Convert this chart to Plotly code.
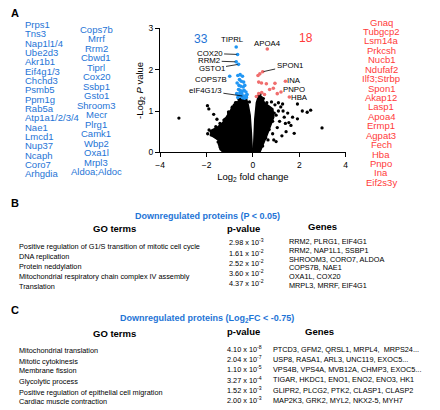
import plotly.graph_objects as go

W, H = 440, 410
FONT = "Arial, Liberation Sans, Helvetica, sans-serif"
BLUE_T = "#1e74d6"
BLUE_P = "#2196f3"
RED_T = "#ff3a3a"
RED_P = "#f06e6e"

# ---------------- data ----------------
down_genes_col1 = ["Prps1", "Tns3", "Nap1l1/4", "Ube2d3", "Akr1b1", "Eif4g1/3", "Chchd3", "Psmb5",
                   "Ppm1g", "Rab5a", "Atp1a1/2/3/4", "Nae1", "Lmcd1", "Nup37", "Ncaph", "Coro7", "Arhgdia"]
down_genes_col2 = ["Cops7b", "Mrrf", "Rrm2", "Cbwd1", "Tiprl", "Cox20", "Ssbp1", "Gsto1", "Shroom3",
                   "Mecr", "Plrg1", "Camk1", "Wbp2", "Oxa1l", "Mrpl3", "Aldoa;Aldoc"]
up_genes = ["Gnaq", "Tubgcp2", "Lsm14a", "Prkcsh", "Nucb1", "Ndufaf2", "Ilf3;Strbp", "Spon1", "Akap12",
            "Lasp1", "Apoa4", "Ermp1", "Agpat3", "Fech", "Hba", "Pnpo", "Ina", "Eif2s3y"]

# dense (non-significant) cloud envelopes, log2FC vs -log2 P
left_cloud_x = [-1.3, -1.45, -1.5, -1.78, -1.85, -1.55, -1.3, -1.15, -0.95, -0.85, -0.65, -0.55, -0.4,
                -0.28, -0.2, -0.12, -0.07, -0.03, -0.02, -1.3]
left_cloud_y = [0.0, 0.12, 0.3, 0.4, 0.52, 0.6, 0.72, 0.85, 1.0, 1.12, 1.22, 1.3, 1.33,
                1.3, 1.15, 0.9, 0.5, 0.1, 0.0, 0.0]
right_cloud_x = [0.02, 0.04, 0.08, 0.15, 0.25, 0.38, 0.5, 0.7, 0.86, 0.9, 0.75, 0.6, 0.45, 0.35, 0.3, 0.02]
right_cloud_y = [0.0, 0.3, 0.8, 1.2, 1.38, 1.35, 1.2, 1.12, 1.05, 0.85, 0.6, 0.4, 0.2, 0.05, 0.0, 0.0]

# scattered non-significant points
ns_x = [-3.19, -1.96, -1.9, -1.69, -1.55, -1.42, -1.35, -1.89, -1.95, -1.7, -0.97, -1.05, -1.2, -0.8,
        -0.7, -0.9, -1.6, -1.5, -1.25, -0.6, -0.3, -0.15,
        -1.05, -0.88, -0.75, -1.25, -1.4, -1.6, -1.75, -1.8, -1.55, -1.45, -1.38,
        1.92, 2.13, 2.34, 2.49, 2.98, 1.71, 1.92, 1.64, 1.43, 1.0, 1.78, 1.28, 1.1, 1.2, 1.0, 1.15,
        1.35, 1.05, 1.25, 0.9, 1.5, 1.3, 1.1, 0.95, 0.8, 0.7, 0.6, 1.4, 1.55, 0.85, 0.65, 0.55, 0.4, 0.3,
        0.92, 0.85, 0.7, 0.55, 0.42, 0.6, 0.45, 0.2]
ns_y = [0.83, 1.13, 1.05, 0.92, 0.8, 0.7, 0.63, 0.54, 0.45, 0.47, 0.97, 0.95, 0.8, 1.15,
        1.2, 1.08, 0.62, 0.25, 0.3, 1.28, 1.36, 1.22,
        0.98, 1.1, 1.2, 0.78, 0.66, 0.55, 0.5, 0.42, 0.35, 0.2, 0.08,
        1.17, 1.0, 0.97, 1.02, 0.59, 0.85, 0.81, 0.65, 0.5, 0.26, 0.46, 1.17, 1.2, 1.1, 0.9, 0.75,
        0.85, 0.6, 0.4, 0.3, 0.95, 1.0, 1.0, 1.15, 1.22, 0.75, 0.55, 0.7, 0.72, 0.45, 0.3, 0.9, 1.25, 1.4,
        0.95, 0.75, 0.55, 0.35, 0.15, 1.2, 1.3, 1.35]

# significantly downregulated (33)
down_x = [-0.72, -0.66, -0.72, -0.62, -1.0, -0.41,
          -0.65, -0.55, -0.45, -0.58, -0.5, -0.4, -0.68, -0.6, -0.52, -0.42, -0.35, -0.62, -0.55,
          -0.45, -0.38, -0.3, -0.7, -0.6, -0.52, -0.48, -0.33, -0.25, -0.65, -0.45, -0.36, -0.28, -0.56]
down_y = [2.55, 2.37, 2.19, 2.13, 1.84, 1.36,
          1.86, 1.88, 1.84, 1.76, 1.72, 1.7, 1.68, 1.62, 1.6, 1.58, 1.62, 1.52, 1.5,
          1.48, 1.5, 1.46, 1.42, 1.38, 1.36, 1.42, 1.36, 1.4, 1.33, 1.32, 1.31, 1.33, 1.44]

# significantly upregulated (18)
up_x = [0.62, 0.42, 0.30, 0.22, 0.25, 0.37, 0.58, 0.95, 1.40, 0.72, 0.88, 1.21, 1.57, 0.25, 0.38, 0.15, 0.50, 1.05]
up_y = [2.50, 1.95, 1.90, 1.86, 1.70, 1.68, 1.66, 1.67, 1.72, 1.52, 1.55, 1.46, 1.34, 1.42, 1.45, 1.35, 1.40, 1.42]

x_ticks = [-4, -2, 0, 2, 4]
y_ticks = [0, 1, 2, 3]

# GO tables
b_terms = ["Positive regulation of G1/S transition of mitotic cell cycle", "DNA replication",
           "Protein neddylation", "Mitochondrial respiratory chain complex IV assembly", "Translation"]
b_pval_mant = ["2.98", "1.61", "2.52", "3.60", "4.37"]
b_pval_exp = ["-3", "-2", "-2", "-2", "-2"]
b_genes = ["RRM2, PLRG1, EIF4G1", "RRM2, NAP1L1, SSBP1", "SHROOM3, CORO7, ALDOA", "COPS7B, NAE1",
           "OXA1L, COX20", "MRPL3, MRRF, EIF4G1"]

c_terms = ["Mitochondrial translation", "Mitotic cytokinesis", "Membrane fission", "Glycolytic process",
           "Positive regulation of epithelial cell migration", "Cardiac muscle contraction"]
c_pval_mant = ["4.10", "2.04", "1.10", "3.27", "1.52", "2.00"]
c_pval_exp = ["-8", "-7", "-5", "-4", "-3", "-3"]
c_genes = ["PTCD3, GFM2, QRSL1, MRPL4,  MRPS24...", "USP8, RASA1, ARL3, UNC119, EXOC5...",
           "VPS4B, VPS4A, MVB12A, CHMP3, EXOC5...", "TIGAR, HKDC1, ENO1, ENO2, ENO3, HK1",
           "GLIPR2, PLCG2, PTK2, CLASP1, CLASP2", "MAP2K3, GRK2, MYL2, NKX2-5, MYH7"]

# ---------------- figure ----------------
fig = go.Figure()
fig.add_trace(go.Scatter(x=left_cloud_x, y=left_cloud_y, mode="lines", fill="toself",
                         fillcolor="black", line=dict(color="black", width=1.5), hoverinfo="skip"))
fig.add_trace(go.Scatter(x=right_cloud_x, y=right_cloud_y, mode="lines", fill="toself",
                         fillcolor="black", line=dict(color="black", width=1.5), hoverinfo="skip"))
fig.add_trace(go.Scatter(x=ns_x, y=ns_y, mode="markers", marker=dict(color="black", size=3.3)))
fig.add_trace(go.Scatter(x=down_x, y=down_y, mode="markers", marker=dict(color=BLUE_P, size=3.6)))
fig.add_trace(go.Scatter(x=up_x, y=up_y, mode="markers", marker=dict(color=RED_P, size=3.6)))


def px2paper(px, py):
    return px / W, 1 - py / H


ann = []


def ptext(px, py, text, size, color="black", xanchor="left", bold=False):
    x, y = px2paper(px, py)
    if bold:
        text = "<b>" + text + "</b>"
    ann.append(dict(x=x, y=y, xref="paper", yref="paper", text=text, showarrow=False,
                    xanchor=xanchor, yanchor="middle", font=dict(family=FONT, size=size, color=color)))


# panel letters
ptext(4, 8, "A", 11, bold=True)
ptext(4, 203, "B", 11, bold=True)
ptext(4, 313, "C", 11, bold=True)

# gene lists
for i, g in enumerate(down_genes_col1):
    ptext(18, 20 + i * 9.56, g, 9.5, BLUE_T)
for i, g in enumerate(down_genes_col2):
    ptext(93, 25 + i * 9.72, g, 9.5, BLUE_T, xanchor="center")
for i, g in enumerate(up_genes):
    ptext(383, 17.5 + i * 9.66, g, 9.5, RED_T, xanchor="center")

# counts
ann.append(dict(x=-2.25, y=2.75, xref="x", yref="y", text="33", showarrow=False,
                font=dict(family=FONT, size=12, color=BLUE_T)))
ann.append(dict(x=2.31, y=2.77, xref="x", yref="y", text="18", showarrow=False,
                font=dict(family=FONT, size=12, color=RED_T)))

lab_font = dict(family=FONT, size=7.8, color="black")


def label(x, y, text):
    ann.append(dict(x=x, y=y, xref="x", yref="y", text=text, showarrow=False, font=lab_font))


def arrow_label(x, y, text, ax, ay):
    ann.append(dict(x=x, y=y, xref="x", yref="y", text=text, showarrow=True, ax=ax, ay=ay,
                    arrowhead=0, arrowwidth=0.8, arrowcolor="black", font=lab_font, standoff=1))


label(-0.86, 2.72, "TIPRL")
arrow_label(-0.66, 2.37, "COX20", -28, -1)
arrow_label(-0.72, 2.19, "RRM2", -27, -1)
arrow_label(-0.62, 2.13, "GSTO1", -27, 4.5)
label(-1.82, 1.77, "COPS7B")
arrow_label(-0.41, 1.36, "eIF4G1/3", -38, -5.5)
label(0.65, 2.64, "APOA4")
arrow_label(0.42, 1.95, "SPON1", 27, -6)
label(1.78, 1.74, "INA")
label(1.76, 1.51, "PNPO")
label(1.99, 1.33, "HBA")


# tables
def table(y0, title, terms, mant, exps, genes, term_y, pv_y, gene_y, pv_x, gene_x, header_y, gene_hx):
    ptext(206, y0, title, 9, BLUE_T, xanchor="center", bold=True)
    ptext(112, header_y[0], "GO terms", 9.5, xanchor="center", bold=True)
    ptext(243, header_y[1], "p-value", 9.5, xanchor="center", bold=True)
    ptext(gene_hx, header_y[2], "Genes", 9.5, xanchor="center", bold=True)
    for t, ty in zip(terms, term_y):
        ptext(12, ty, t, 7.3)
    for m, e, vy in zip(mant, exps, pv_y):
        ptext(pv_x, vy, m + " x 10<sup>" + e + "</sup>", 7.3)
    for g, gy in zip(genes, gene_y):
        ptext(gene_x, gy, g, 7.3)


table(216, "Downregulated proteins (P < 0.05)", b_terms, b_pval_mant, b_pval_exp, b_genes,
      [247.3, 257.7, 268, 278.3, 288.3], [243.3, 253.7, 264, 274.3, 284.7],
      [242.7, 251.7, 260.7, 269.3, 278.3, 287.3], 226.5, 287, (229.3, 229, 226.7), 323)
table(321.7, "Downregulated proteins (Log<sub>2</sub>FC < -0.75)", c_terms, c_pval_mant, c_pval_exp, c_genes,
      [354.3, 365, 375, 385.7, 396.7, 406.0], [352.7, 363.3, 373.3, 384, 394.7, 405.0],
      [352.7, 363.3, 373.3, 384.3, 394.7, 405.0], 224, 270.5, (336.7, 335, 334.3), 320)

x0, x1 = 158 / W, 347 / W
y0, y1 = 1 - 151 / H, 1 - 24 / H
fig.update_layout(
    width=W, height=H, margin=dict(l=0, r=0, t=0, b=0), showlegend=False,
    paper_bgcolor="white", plot_bgcolor="white", annotations=ann,
    font=dict(family=FONT, size=9, color="black"),
    xaxis=dict(domain=[x0, x1], range=[-4, 4], tickvals=x_ticks, showgrid=False, zeroline=False,
               showline=True, linecolor="black", linewidth=1.2, ticks="outside", ticklen=4,
               tickcolor="black", tickfont=dict(size=8.5),
               title=dict(text="Log<sub>2</sub> fold change", font=dict(size=9.5), standoff=4)),
    yaxis=dict(domain=[y0, y1], range=[0, 3], tickvals=y_ticks, showgrid=False, zeroline=False,
               showline=True, linecolor="black", linewidth=1.2, ticks="outside", ticklen=4,
               tickcolor="black", tickfont=dict(size=8.5),
               title=dict(text="-Log<sub>2</sub> <i>P</i> value", font=dict(size=9.5), standoff=3)),
)
fig.write_html("out.html", config={"displayModeBar": False},
               post_script="document.body.style.margin='0';document.body.style.overflow='hidden';")
